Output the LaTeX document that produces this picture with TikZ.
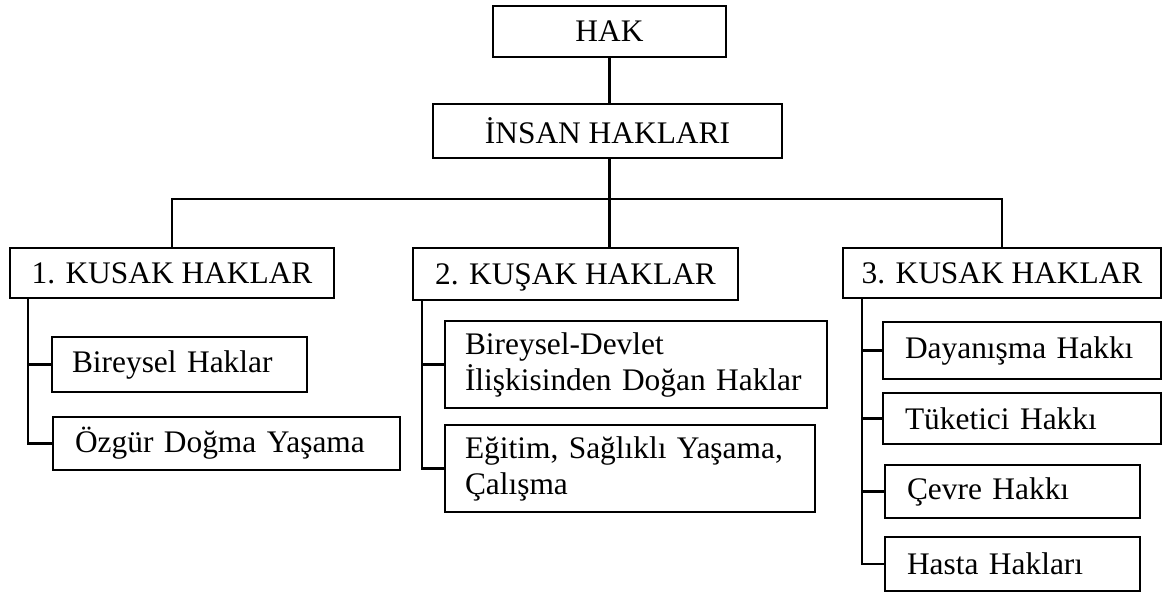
\documentclass[tikz,border=0pt]{standalone}
\usepackage{fontspec}
\setmainfont{Liberation Serif}
\usetikzlibrary{positioning, calc}

\begin{document}
\begin{tikzpicture}[x=1pt, y=-1pt,
    box/.style={rectangle, draw=black, line width=2.2pt, inner sep=0pt, text depth=0pt,
                font=\fontsize{31.4}{36}\selectfont},
    leaf/.style={rectangle, draw=black, line width=2.2pt, inner xsep=20pt,
                 inner ysep=0pt, align=left, font=\fontsize{31.4}{36}\selectfont},
    link/.style={line width=2.2pt, black}
]
    \useasboundingbox (0,0) rectangle (1162,593);

    % Upper levels
    \node[box, minimum width=233pt, minimum height=51pt] (hak) at (609.5,31.5) {HAK};
    \node[box, minimum width=349pt, minimum height=54pt] (insan) at (607.5,131) {İNSAN HAKLARI};

    % Generations
    \node[box, minimum width=324pt, minimum height=50pt] (k1) at (172,273) {1. KUSAK HAKLAR};
    \node[box, minimum width=325pt, minimum height=52pt] (k2) at (575.5,274) {2. KUŞAK HAKLAR};
    \node[box, minimum width=318pt, minimum height=50pt] (k3) at (1002,273) {3. KUSAK HAKLAR};

    % First generation rights
    \node[leaf, text width=215pt, minimum height=55pt] (b1a) at (179.5,364.5) {Bireysel Haklar};
    \node[leaf, text width=303pt, minimum height=53pt, inner xsep=22pt] (b1b) at (226.5,443.5) {Özgür Doğma Yaşama};

    % Second generation rights
    \node[leaf, text width=342pt, minimum height=87pt] (b2a) at (636,364.5) {Bireysel-Devlet\\İlişkisinden Doğan Haklar};
    \node[leaf, text width=330pt, minimum height=87pt] (b2b) at (630,468.5) {Eğitim, Sağlıklı Yaşama,\\Çalışma};

    % Third generation rights
    \node[leaf, text width=234pt, minimum height=57pt, inner xsep=22pt] (b3a) at (1022,350.5) {Dayanışma Hakkı};
    \node[leaf, text width=234pt, minimum height=51pt, inner xsep=22pt] (b3b) at (1022,418.5) {Tüketici Hakkı};
    \node[leaf, text width=211pt, minimum height=53pt, inner xsep=22pt] (b3c) at (1012.5,491.5) {Çevre Hakkı};
    \node[leaf, text width=211pt, minimum height=54pt, inner xsep=22pt] (b3d) at (1012.5,564) {Hasta Hakları};

    % Links between levels
    \draw[link] (hak.south) -- (hak.south |- insan.north);
    \draw[link] (hak.south |- insan.south) -- (hak.south |- k2.north);
    \coordinate (bus) at (609.5,199);
    \draw[link] (k1.north) |- (bus) -| (k3.north);

    % Spines
    \coordinate (s1) at ([xshift=19pt]k1.south west);
    \coordinate (s2) at ([xshift=10pt]k2.south west);
    \coordinate (s3) at ([xshift=20pt]k3.south west);
    \draw[link] (s1) |- (b1b.west);
    \draw[link] (s1 |- b1a.west) -- (b1a.west);
    \draw[link] (s2) |- (b2b.west);
    \draw[link] (s2 |- b2a.west) -- (b2a.west);
    \draw[link] (s3) |- (b3d.west);
    \foreach \n in {b3a,b3b,b3c} {
        \draw[link] (s3 |- \n.west) -- (\n.west);
    }
\end{tikzpicture}
\end{document}
